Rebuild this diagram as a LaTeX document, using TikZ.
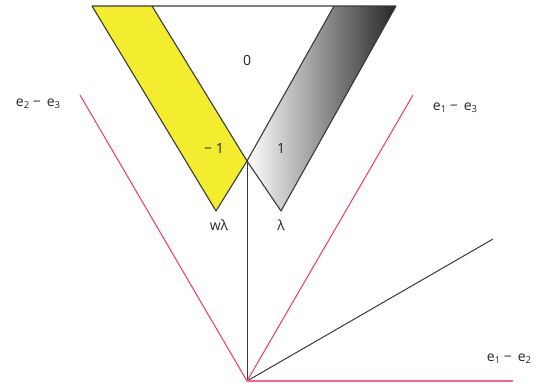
\documentclass[tikz,border=0pt]{standalone}
\usepackage{fontspec}
\setmainfont{Open Sans}
\definecolor{ylw}{HTML}{F4EC2E}
\definecolor{rd}{HTML}{EA3A62}
\definecolor{rdl}{HTML}{F0678A}
\definecolor{dk}{HTML}{3A3A3A}
\newcommand{\sbx}[1]{\raisebox{-2.2pt}{\fontsize{9.5}{10}\selectfont #1}}
\begin{document}
\begin{tikzpicture}[x=1pt,y=-1pt,
  edge/.style={draw=dk,line width=1.1pt,line join=round},
  root/.style={draw=rd,line width=1pt},
  lbl/.style={font=\fontsize{14}{16}\selectfont,text=black!85,inner sep=0pt}]
\useasboundingbox (0,0) rectangle (537,383);
% key points
\coordinate (TL) at (92,6);
\coordinate (YI) at (152,6);
\coordinate (GI) at (334,6);
\coordinate (TR) at (396,6);
\coordinate (C) at (247,161);
\coordinate (YB) at (216,211);
\coordinate (GB) at (281,211);
\coordinate (O) at (247,381);
\coordinate (R1) at (80,95);
\coordinate (R2) at (413,95);
\coordinate (R3) at (513,381);
\coordinate (D1) at (493,239);
% strips
\fill[ylw] (TL) -- (YI) -- (C) -- (YB) -- cycle;
\shade[left color=white,right color=black!85] (C) -- (GI) -- (TR) -- (GB) -- cycle;
\draw[edge] (YI) -- (C) -- (YB) -- (TL) -- (TR) -- (GB) -- (C) -- (GI);
% axes
\draw[edge,line width=1pt] (C) -- (O);
\draw[edge,line width=1pt] (O) -- (D1);
\draw[root] (O) -- (R1);
\draw[root] (O) -- (R2);
\draw[draw=rdl,line width=1.3pt] (O) -- (R3);
% labels
\node[lbl] (l0) at (247,60) {0};
\node[lbl] (lm1) at (214,148) {− 1};
\node[lbl] (l1) at (281,148) {1};
\node[lbl] (lwl) at (219,225) {wλ};
\node[lbl] (ll) at (281,225) {λ};
\node[lbl] (a23) at (38,104) {e\sbx{2} −\, e\sbx{3}};
\node[lbl] (a13) at (455,108) {e\sbx{1} −\, e\sbx{3}};
\node[lbl] (a12) at (509,359) {e\sbx{1} −\, e\sbx{2}};
\end{tikzpicture}
\end{document}
